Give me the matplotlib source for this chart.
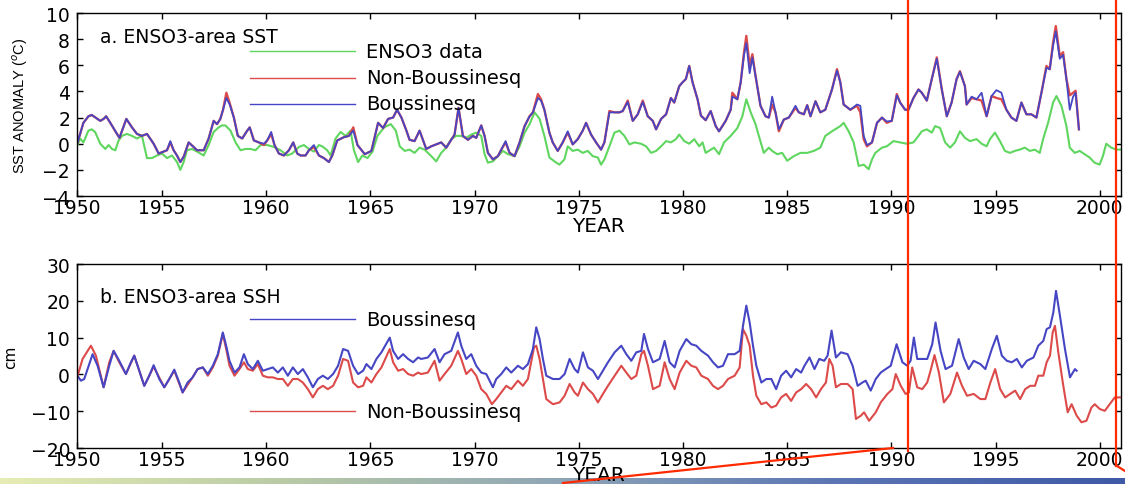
import numpy as np
import matplotlib
matplotlib.use('Agg')
import matplotlib.pyplot as plt
from matplotlib.lines import Line2D
from matplotlib.colors import LinearSegmentedColormap

# ---- panel a: ENSO3-area SST anomaly (deg C) ----
sst_model_years = [
    1950.95, 1951.23, 1951.47, 1951.63, 1952.04, 1952.20, 1952.32, 1952.52, 1952.84, 1952.96,
    1953.29, 1953.56, 1953.80, 1954.04, 1954.28, 1954.60, 1954.84, 1955.08, 1955.24, 1955.40,
    1955.56, 1955.72, 1955.88, 1956.04, 1956.28, 1956.52, 1956.68, 1957.00, 1957.24, 1957.48,
    1957.64, 1957.80, 1957.93, 1958.09, 1958.25, 1958.45, 1958.64, 1958.85, 1959.09, 1959.21,
    1959.41, 1959.65, 1959.89, 1960.05, 1960.24, 1960.40, 1960.61, 1960.85, 1961.09, 1961.30,
    1961.49, 1961.65, 1961.89, 1962.05, 1962.29, 1962.53, 1962.77, 1963.01, 1963.17, 1963.41,
    1963.73, 1963.97, 1964.18, 1964.38, 1964.73, 1965.05, 1965.37, 1965.61, 1965.85, 1966.09,
    1966.28, 1966.49, 1966.73, 1966.88, 1967.12, 1967.36, 1967.52, 1967.68, 1967.92, 1968.16,
    1968.40, 1968.64, 1968.88, 1969.04, 1969.23, 1969.44, 1969.68, 1969.92, 1970.08, 1970.32,
    1970.48, 1970.64, 1970.88, 1971.12, 1971.28, 1971.49, 1971.68, 1971.92, 1972.16, 1972.40,
    1972.64, 1972.80, 1973.04, 1973.19, 1973.35, 1973.59, 1973.75, 1973.99, 1974.23, 1974.47,
    1974.71, 1974.95, 1975.19, 1975.35, 1975.59, 1975.83, 1976.07, 1976.23, 1976.47, 1976.71,
    1976.95, 1977.11, 1977.35, 1977.59, 1977.83, 1978.07, 1978.31, 1978.55, 1978.71, 1978.95,
    1979.19, 1979.42, 1979.58, 1979.82, 1979.98, 1980.14, 1980.30, 1980.46, 1980.70, 1980.86,
    1981.09, 1981.33, 1981.57, 1981.73, 1982.05, 1982.29, 1982.37, 1982.61, 1982.77, 1982.93,
    1983.04, 1983.20, 1983.33, 1983.48, 1983.72, 1983.96, 1984.12, 1984.28, 1984.44, 1984.60,
    1984.84, 1985.08, 1985.40, 1985.56, 1985.80, 1985.96, 1986.12, 1986.36, 1986.59, 1986.83,
    1987.15, 1987.39, 1987.55, 1987.71, 1988.03, 1988.35, 1988.51, 1988.67, 1988.83, 1989.07,
    1989.31, 1989.55, 1989.78, 1990.02, 1990.26, 1990.42, 1990.66, 1990.82, 1991.06, 1991.30,
    1991.46, 1991.70, 1991.94, 1992.18, 1992.42, 1992.66, 1992.89, 1993.13, 1993.29, 1993.53,
    1993.61, 1993.85, 1994.09, 1994.33, 1994.57, 1994.81, 1995.04, 1995.28, 1995.52, 1995.76,
    1996.00, 1996.24, 1996.48, 1996.72, 1996.96, 1997.20, 1997.44, 1997.60, 1997.76, 1997.89,
    1998.08, 1998.24, 1998.40, 1998.56, 1998.72, 1998.84, 1999.00,
]
sst_nonbouss = [
    0.1, 1.6, 2.1, 2.2, 1.75, 1.9, 2.1, 1.6, 0.75, 0.45,
    1.9, 1.25, 0.75, 0.6, 0.75, 0.0, -0.75, -0.6, -0.5, 0.1,
    -0.5, -0.9, -1.4, -1.0, 0.1, -0.25, -0.5, -0.5, 0.4, 1.75,
    1.5, 1.9, 2.6, 3.9, 3.1, 2.0, 0.6, 0.4, 1.0, 1.25,
    0.25, 0.1, -0.1, 0.25, 0.75, -0.1, -0.75, -0.9, -0.5, 0.1,
    -0.75, -0.9, -0.9, -0.5, -0.25, -0.9, -1.1, -1.4, -0.9, 0.25,
    0.5, 0.6, 1.25, -0.1, -0.8, -0.55, 1.6, 1.2, 1.9, 2.0,
    2.6, 2.0, 1.0, 0.3, 0.2, 1.0, 0.3, -0.4, -0.2, -0.05,
    0.1, -0.3, 0.3, 0.7, 2.75, 0.6, 0.3, 0.6, 0.45, 1.4,
    0.6, -0.7, -1.2, -0.95, -0.45, 0.1, -0.7, -0.95, 0.1, 1.35,
    2.1, 2.4, 3.8, 3.4, 2.6, 0.85, 0.1, -0.55, 0.1, 0.85,
    -0.05, 0.35, 1.0, 1.6, 0.7, 0.1, -0.45, 0.1, 2.5, 2.4,
    2.4, 2.5, 3.3, 1.75, 2.25, 3.3, 2.1, 1.75, 1.1, 1.9,
    2.25, 3.5, 3.15, 4.4, 4.7, 4.95, 5.95, 4.7, 3.4, 2.15,
    1.8, 2.5, 1.35, 0.95, 1.75, 2.6, 3.9, 3.4, 4.7, 7.0,
    8.25, 5.95, 6.85, 5.2, 2.9, 2.1, 2.0, 3.0, 2.4, 0.95,
    1.85, 2.0, 2.75, 2.4, 2.25, 2.95, 2.1, 3.25, 2.4, 2.6,
    4.15, 5.7, 4.7, 3.0, 2.6, 2.9, 2.4, 0.35, -0.2, 0.1,
    1.6, 2.0, 1.6, 1.75, 3.8, 3.15, 2.6, 2.6, 3.5, 4.15,
    3.9, 3.3, 4.95, 6.6, 4.15, 2.1, 3.15, 4.95, 5.55, 4.4,
    3.0, 3.5, 3.4, 3.3, 2.1, 3.65, 3.5, 3.4, 2.6, 2.0,
    1.75, 3.15, 2.25, 2.25, 2.0, 3.9, 5.95, 5.7, 7.75, 9.0,
    6.7, 7.0, 4.95, 3.7, 3.9, 4.05, 1.1,
]
sst_bouss = [
    0.1, 1.6, 2.1, 2.2, 1.75, 1.9, 2.1, 1.6, 0.75, 0.45,
    1.9, 1.25, 0.75, 0.6, 0.75, 0.0, -0.75, -0.6, -0.5, 0.2,
    -0.5, -0.9, -1.4, -1.0, 0.1, -0.25, -0.5, -0.5, 0.4, 1.75,
    1.5, 1.9, 2.6, 3.5, 3.0, 2.0, 0.6, 0.4, 1.0, 1.25,
    0.25, 0.1, 0.0, 0.25, 0.9, -0.1, -0.75, -0.9, -0.5, 0.1,
    -0.75, -0.9, -0.9, -0.5, -0.1, -0.9, -1.1, -1.4, -0.9, 0.25,
    0.5, 0.6, 1.0, -0.1, -0.8, -0.55, 1.6, 1.2, 1.9, 2.0,
    2.6, 2.0, 1.0, 0.3, 0.2, 1.0, 0.3, -0.4, -0.2, -0.05,
    0.1, -0.3, 0.3, 0.7, 2.75, 0.6, 0.3, 0.6, 0.45, 1.4,
    0.6, -0.7, -1.2, -0.95, -0.45, 0.2, -0.7, -0.95, 0.1, 1.35,
    2.1, 2.4, 3.5, 3.3, 2.6, 0.85, 0.1, -0.55, 0.1, 0.95,
    -0.05, 0.35, 1.0, 1.6, 0.7, 0.1, -0.45, 0.1, 2.4, 2.4,
    2.4, 2.5, 3.2, 1.75, 2.25, 3.2, 2.1, 1.75, 1.1, 1.9,
    2.25, 3.5, 3.15, 4.4, 4.7, 4.95, 5.95, 4.7, 3.4, 2.15,
    1.8, 2.5, 1.35, 0.95, 1.75, 2.6, 3.6, 3.4, 4.7, 6.8,
    7.7, 5.4, 6.6, 5.2, 2.9, 2.1, 2.0, 3.6, 2.4, 1.1,
    1.85, 2.0, 2.9, 2.4, 2.25, 2.95, 2.1, 3.25, 2.4, 2.6,
    4.15, 5.6, 4.7, 3.0, 2.6, 3.0, 2.9, 0.6, -0.1, 0.1,
    1.6, 2.0, 1.7, 1.75, 3.7, 3.15, 2.6, 2.6, 3.5, 4.15,
    3.9, 3.3, 4.95, 6.5, 4.15, 2.1, 3.15, 4.95, 5.5, 4.4,
    3.0, 3.6, 3.4, 3.9, 2.1, 3.65, 4.1, 3.9, 2.6, 2.0,
    1.75, 3.15, 2.25, 2.25, 2.0, 3.9, 5.8, 5.7, 7.5, 8.6,
    6.5, 6.8, 4.95, 2.6, 3.6, 3.9, 1.1,
]
sst_obs_years = [
    1950.95, 1951.07, 1951.23, 1951.47, 1951.63, 1951.79, 1952.04, 1952.28, 1952.44, 1952.60,
    1952.76, 1952.92, 1953.08, 1953.32, 1953.56, 1953.80, 1954.04, 1954.28, 1954.52, 1954.76,
    1955.00, 1955.24, 1955.48, 1955.72, 1955.88, 1956.04, 1956.20, 1956.44, 1956.68, 1957.00,
    1957.24, 1957.48, 1957.72, 1957.88, 1958.04, 1958.29, 1958.53, 1958.77, 1959.01, 1959.25,
    1959.49, 1959.73, 1960.05, 1960.37, 1960.69, 1961.01, 1961.25, 1961.57, 1961.81, 1962.05,
    1962.29, 1962.53, 1962.69, 1962.93, 1963.09, 1963.33, 1963.57, 1963.81, 1964.05, 1964.21,
    1964.41, 1964.62, 1964.86, 1965.10, 1965.34, 1965.66, 1965.98, 1966.22, 1966.41, 1966.65,
    1966.88, 1967.12, 1967.36, 1967.60, 1967.92, 1968.16, 1968.40, 1968.64, 1968.88, 1969.12,
    1969.36, 1969.60, 1969.84, 1970.08, 1970.32, 1970.48, 1970.64, 1970.88, 1971.12, 1971.36,
    1971.60, 1971.92, 1972.16, 1972.40, 1972.64, 1972.88, 1973.12, 1973.35, 1973.59, 1973.83,
    1974.07, 1974.31, 1974.47, 1974.71, 1974.95, 1975.19, 1975.43, 1975.67, 1975.91, 1976.07,
    1976.23, 1976.47, 1976.71, 1976.95, 1977.19, 1977.43, 1977.67, 1977.99, 1978.23, 1978.47,
    1978.71, 1978.95, 1979.19, 1979.42, 1979.66, 1979.82, 1980.06, 1980.30, 1980.54, 1980.78,
    1980.94, 1981.09, 1981.49, 1981.73, 1981.97, 1982.29, 1982.61, 1982.85, 1983.04, 1983.25,
    1983.48, 1983.64, 1983.88, 1984.12, 1984.28, 1984.52, 1984.76, 1985.00, 1985.32, 1985.64,
    1985.96, 1986.28, 1986.59, 1986.83, 1987.15, 1987.55, 1987.71, 1987.95, 1988.19, 1988.43,
    1988.67, 1988.91, 1989.07, 1989.23, 1989.55, 1989.78, 1990.10, 1990.42, 1990.74, 1991.06,
    1991.30, 1991.46, 1991.70, 1991.94, 1992.10, 1992.34, 1992.58, 1992.82, 1993.05, 1993.29,
    1993.53, 1993.77, 1994.09, 1994.33, 1994.57, 1994.73, 1994.97, 1995.21, 1995.45, 1995.69,
    1995.92, 1996.16, 1996.40, 1996.64, 1996.88, 1997.12, 1997.28, 1997.52, 1997.76, 1997.92,
    1998.16, 1998.40, 1998.56, 1998.80, 1999.04, 1999.27, 1999.51, 1999.75, 1999.99, 2000.15,
    2000.31, 2000.55, 2000.79, 2000.98,
]
sst_obs = [
    -0.1, 0.4, 0.1, 1.0, 1.1, 0.9, 0.0, -0.4, -0.1, -0.4,
    -0.5, 0.25, 0.6, 0.75, 0.6, 0.4, 0.6, -1.1, -1.1, -0.9,
    -0.75, -1.1, -0.9, -1.4, -2.0, -1.4, -0.5, -0.4, -0.6, -0.9,
    -0.1, 0.9, 1.25, 1.4, 1.4, 1.0, 0.1, -0.5, -0.4, -0.4,
    -0.5, -0.1, -0.1, -0.25, -0.5, -0.9, -0.75, -0.25, -0.1, -0.4,
    -0.6, -0.1, -0.2, -0.5, -0.9, 0.4, 0.9, 0.6, 1.0, -0.5,
    -1.4, -0.9, -1.1, -0.6, 0.6, 1.25, 1.5, 1.0, -0.2, -0.55,
    -0.45, -0.7, -0.3, -0.45, -0.95, -1.35, -0.7, -0.3, 0.35, 0.6,
    0.6, 0.45, 0.7, 0.85, 0.6, -0.8, -1.45, -1.35, -0.95, -0.55,
    -0.8, -0.95, -0.2, 0.85, 1.5, 2.4, 1.9, 0.6, -1.05, -1.35,
    -1.6, -1.2, -0.2, -0.55, -0.45, -0.7, -0.55, -0.95, -1.05, -1.6,
    -1.2, -0.2, 0.85, 1.0, 0.6, -0.05, 0.1, 0.0, -0.2, -0.7,
    -0.55, -0.2, 0.2, 0.1, 0.35, 0.7, 0.2, 0.0, 0.35, -0.2,
    0.1, -0.7, -0.3, -0.8, 0.1, 0.6, 1.2, 2.1, 3.4, 2.4,
    1.5, 0.6, -0.7, -0.3, -0.55, -0.8, -0.7, -1.3, -0.95, -0.7,
    -0.7, -0.55, -0.3, 0.6, 0.95, 1.35, 1.6, 0.95, 0.1, -1.7,
    -1.6, -1.95, -1.2, -0.7, -0.3, -0.2, 0.2, 0.1, 0.0, 0.1,
    0.6, 0.95, 1.1, 0.85, 1.35, 1.2, 0.1, -0.3, 0.1, 0.95,
    0.45, 0.2, 0.35, 0.0, -0.2, 0.35, 0.85, 0.2, -0.55, -0.7,
    -0.55, -0.45, -0.3, -0.55, -0.45, -0.7, 0.35, 1.6, 3.15, 3.65,
    2.9, 1.35, -0.3, -0.7, -0.55, -0.8, -1.05, -1.45, -1.6, -0.95,
    0.0, -0.3, -0.45, -0.45,
]

# ---- panel b: ENSO3-area SSH (cm) ----
ssh_bouss_years = [
    1950.95, 1951.11, 1951.27, 1951.43, 1951.67, 1951.91, 1952.20, 1952.47, 1952.68, 1952.95,
    1953.27, 1953.51, 1953.67, 1953.91, 1954.15, 1954.39, 1954.60, 1954.87, 1955.11, 1955.35,
    1955.59, 1955.83, 1955.99, 1956.23, 1956.47, 1956.71, 1956.96, 1957.20, 1957.44, 1957.68,
    1957.92, 1958.08, 1958.24, 1958.48, 1958.72, 1958.93, 1959.12, 1959.36, 1959.60, 1959.84,
    1960.08, 1960.32, 1960.56, 1960.80, 1961.04, 1961.28, 1961.52, 1961.76, 1962.00, 1962.24,
    1962.48, 1962.72, 1962.96, 1963.21, 1963.45, 1963.69, 1963.93, 1964.17, 1964.41, 1964.65,
    1964.81, 1965.05, 1965.29, 1965.53, 1965.93, 1966.09, 1966.33, 1966.57, 1966.81, 1967.05,
    1967.29, 1967.44, 1967.76, 1968.08, 1968.32, 1968.56, 1968.88, 1969.20, 1969.36, 1969.60,
    1969.84, 1970.08, 1970.32, 1970.56, 1970.88, 1971.04, 1971.28, 1971.52, 1971.76, 1972.08,
    1972.32, 1972.56, 1972.80, 1972.96, 1973.12, 1973.28, 1973.44, 1973.76, 1974.08, 1974.32,
    1974.56, 1974.80, 1974.96, 1975.20, 1975.44, 1975.68, 1975.92, 1976.16, 1976.40, 1976.72,
    1977.04, 1977.28, 1977.52, 1977.76, 1978.00, 1978.13, 1978.32, 1978.56, 1978.88, 1979.12,
    1979.36, 1979.60, 1979.84, 1980.16, 1980.40, 1980.64, 1980.88, 1981.20, 1981.44, 1981.68,
    1981.92, 1982.16, 1982.48, 1982.72, 1982.88, 1983.04, 1983.20, 1983.36, 1983.52, 1983.76,
    1984.00, 1984.24, 1984.47, 1984.71, 1984.95, 1985.19, 1985.43, 1985.67, 1985.83, 1986.07,
    1986.31, 1986.54, 1986.78, 1986.94, 1987.13, 1987.34, 1987.58, 1987.90, 1988.14, 1988.38,
    1988.61, 1988.77, 1989.01, 1989.25, 1989.49, 1989.73, 1989.97, 1990.25, 1990.53, 1990.76,
    1990.92, 1991.08, 1991.24, 1991.48, 1991.72, 1991.96, 1992.12, 1992.36, 1992.60, 1992.91,
    1993.23, 1993.47, 1993.71, 1993.95, 1994.27, 1994.51, 1994.82, 1995.06, 1995.30, 1995.54,
    1995.78, 1996.02, 1996.26, 1996.50, 1996.82, 1997.05, 1997.29, 1997.45, 1997.61, 1997.77,
    1997.90, 1998.09, 1998.33, 1998.57, 1998.81, 1998.89,
]
ssh_bouss = [
    -0.4, -1.7, -1.25, 1.45, 5.5, 2.35, -3.5, 2.35, 6.4, 3.7,
    0.1, 3.3, 5.1, 1.0, -3.1, -0.35, 2.5, -1.25, -3.5, -1.25,
    1.3, -2.2, -4.9, -2.2, -0.8, 1.45, 1.9, 0.1, 2.35, 5.5,
    11.4, 7.8, 3.7, 0.5, 1.9, 5.5, 2.8, 1.45, 3.7, 1.0,
    1.45, 1.9, 0.5, 1.9, -0.35, 1.9, 0.1, 1.45, -0.8, -3.5,
    -1.25, -0.35, -1.25, 0.1, 2.35, 6.9, 6.4, 2.35, 0.1, 1.0,
    2.8, 1.45, 4.2, 6.0, 10.0, 6.4, 4.2, 5.5, 4.2, 3.3,
    4.6, 4.2, 4.6, 6.9, 3.3, 5.5, 6.4, 11.4, 7.8, 4.2,
    5.5, 2.35, 0.5, 0.1, -3.5, -1.25, 0.1, 1.9, 0.5, 2.35,
    1.45, 2.8, 6.9, 12.8, 9.6, 4.2, -0.35, -1.25, -1.25, 0.1,
    4.2, 1.45, 0.5, 6.0, 1.9, 1.0, -1.25, 1.0, 3.3, 6.0,
    7.8, 5.5, 3.7, 6.0, 6.4, 11.0, 6.9, 3.3, 4.2, 9.1,
    3.3, 1.9, 6.4, 9.6, 8.2, 7.8, 6.4, 5.1, 3.3, 1.9,
    2.35, 5.5, 5.5, 6.4, 13.2, 18.7, 14.1, 7.8, 2.35, -2.2,
    -1.25, -1.25, -4.0, -0.35, 1.0, -0.8, 1.45, 0.5, 2.35, 4.6,
    1.45, 4.2, 3.7, 5.1, 11.9, 4.6, 6.0, 5.5, 2.35, -3.1,
    -2.2, -1.7, -4.4, -1.25, 0.5, 1.45, 2.35, 8.2, 3.3, 2.35,
    3.7, 10.0, 4.2, 4.2, 4.2, 8.2, 14.1, 6.4, 1.45, 2.35,
    9.6, 4.6, 1.45, 3.7, 2.8, 1.45, 6.9, 10.5, 5.1, 3.7,
    3.3, 4.2, 1.9, 3.7, 4.6, 7.8, 9.1, 12.3, 12.8, 16.8,
    22.7, 15.9, 6.9, -0.8, 1.45, 1.0,
]
ssh_nonbouss_years = [
    1950.95, 1951.19, 1951.59, 1951.83, 1952.20, 1952.47, 1952.68, 1952.95, 1953.27, 1953.67,
    1954.15, 1954.60, 1955.11, 1955.59, 1955.99, 1956.47, 1956.71, 1956.96, 1957.20, 1957.44,
    1957.68, 1957.92, 1958.08, 1958.24, 1958.48, 1958.72, 1958.93, 1959.12, 1959.36, 1959.60,
    1959.84, 1960.08, 1960.32, 1960.56, 1960.80, 1961.04, 1961.28, 1961.52, 1961.76, 1962.00,
    1962.24, 1962.48, 1962.72, 1962.96, 1963.21, 1963.45, 1963.69, 1963.93, 1964.17, 1964.41,
    1964.65, 1964.81, 1965.05, 1965.29, 1965.53, 1965.93, 1966.09, 1966.33, 1966.57, 1966.81,
    1967.05, 1967.29, 1967.44, 1967.76, 1968.08, 1968.32, 1968.56, 1968.88, 1969.20, 1969.36,
    1969.60, 1969.84, 1970.08, 1970.32, 1970.56, 1970.83, 1971.04, 1971.28, 1971.52, 1971.76,
    1972.08, 1972.32, 1972.56, 1972.85, 1972.96, 1973.12, 1973.28, 1973.44, 1973.76, 1974.08,
    1974.32, 1974.56, 1974.80, 1974.96, 1975.20, 1975.44, 1975.68, 1975.92, 1976.16, 1976.40,
    1976.72, 1977.04, 1977.28, 1977.52, 1977.76, 1978.00, 1978.13, 1978.32, 1978.56, 1978.88,
    1979.12, 1979.36, 1979.60, 1979.84, 1980.16, 1980.40, 1980.64, 1980.88, 1981.20, 1981.44,
    1981.68, 1981.92, 1982.16, 1982.48, 1982.72, 1982.88, 1983.04, 1983.20, 1983.36, 1983.52,
    1983.76, 1984.00, 1984.24, 1984.47, 1984.71, 1984.95, 1985.19, 1985.43, 1985.67, 1985.91,
    1986.15, 1986.39, 1986.62, 1986.86, 1987.02, 1987.18, 1987.34, 1987.58, 1987.90, 1988.14,
    1988.30, 1988.54, 1988.69, 1988.93, 1989.25, 1989.49, 1989.81, 1990.05, 1990.21, 1990.45,
    1990.68, 1990.84, 1991.00, 1991.24, 1991.48, 1991.72, 1991.88, 1992.07, 1992.28, 1992.52,
    1992.83, 1993.15, 1993.39, 1993.63, 1993.95, 1994.27, 1994.51, 1994.75, 1994.98, 1995.22,
    1995.46, 1995.70, 1995.94, 1996.18, 1996.42, 1996.66, 1996.89, 1997.05, 1997.29, 1997.45,
    1997.61, 1997.74, 1997.85, 1998.01, 1998.25, 1998.46, 1998.65, 1998.89, 1999.12, 1999.36,
    1999.60, 1999.76, 2000.00, 2000.24, 2000.48, 2000.72, 2000.96,
]
ssh_nonbouss = [
    -0.4, 4.2, 7.8, 5.1, -3.5, 3.3, 6.4, 3.3, 0.1, 5.1,
    -3.1, 2.1, -3.5, 1.0, -4.9, -0.8, 1.45, 1.9, -0.35, 1.9,
    5.1, 11.0, 6.9, 2.35, -0.35, 1.45, 3.3, 1.45, 1.0, 2.8,
    -0.35, -0.8, -0.8, -1.25, -1.25, -3.1, -1.25, -1.25, -2.2, -4.0,
    -6.25, -4.0, -3.1, -4.0, -3.1, -0.35, 4.2, 3.7, -2.2, -3.5,
    -3.1, -0.8, -2.2, 0.1, 1.9, 6.9, 3.3, 1.0, 1.45, 0.1,
    -0.35, 0.5, 0.1, 0.5, 3.7, -1.7, 0.1, 2.35, 6.4, 4.2,
    0.1, 1.45, -0.35, -4.0, -5.3, -8.1, -6.7, -4.9, -3.1, -4.0,
    -1.7, -3.1, -1.25, 7.3, 7.8, 4.2, -1.25, -6.7, -8.1, -7.6,
    -5.8, -2.6, -4.9, -5.8, -2.2, -4.0, -5.3, -7.6, -5.3, -3.1,
    -0.35, 2.35, 0.5, -1.25, -0.35, 5.5, 6.4, 2.35, -4.0, -3.1,
    3.3, -1.25, -4.0, 0.5, 3.7, 2.35, 1.9, -0.35, -1.25, -3.1,
    -4.0, -3.1, -1.25, -0.35, 1.9, 12.3, 10.5, 7.8, -0.35, -5.8,
    -8.1, -7.6, -9.0, -8.5, -6.25, -5.3, -7.2, -4.9, -4.0, -2.6,
    -4.0, -6.25, -4.0, -2.2, 4.2, 2.35, -3.5, -2.6, -2.6, -4.0,
    -12.1, -11.2, -10.3, -12.6, -10.3, -7.6, -5.3, -4.0, 0.1, -3.1,
    -5.3, -4.9, 1.9, -3.5, -4.0, -2.2, 1.0, 5.25, 0.5, -7.6,
    -5.3, 0.5, -3.1, -5.8, -5.3, -6.7, -6.7, -2.2, 1.45, -4.0,
    -6.25, -5.3, -4.4, -6.7, -4.0, -3.1, -3.1, -0.35, -0.35, 3.3,
    5.1, 11.4, 13.2, 6.0, -3.1, -10.3, -8.1, -11.2, -13.0, -12.6,
    -9.0, -8.1, -9.4, -9.9, -8.1, -6.25, -6.25,
]

year_ticks = list(range(1950, 2001, 5))
x_start, x_end = 1950.92, 2001.0

GREEN = '#5fd65f'
RED = '#dc4a4a'
BLUE = '#4646c4'

plt.rcParams['font.family'] = ['DejaVu Sans']

fig = plt.figure(figsize=(11.25, 4.85), dpi=100)
ax1 = fig.add_axes([0.0684, 0.5938, 0.9277, 0.3773])
ax2 = fig.add_axes([0.0684, 0.0742, 0.9277, 0.3794])


def style_axis(ax, ylim, yticks):
    ax.set_xlim(x_start, x_end)
    ax.set_ylim(*ylim)
    ax.set_yticks(yticks)
    ax.set_xticks([x_start] + year_ticks[1:])
    ax.set_xticklabels([str(y) for y in year_ticks])
    ax.tick_params(direction='in', length=4, width=1, top=True, right=True,
                   labelsize=13.5, pad=1.5)
    ax.tick_params(axis='y', pad=5)
    for s in ax.spines.values():
        s.set_linewidth(1.0)


# panel a
ax1.plot(sst_obs_years, sst_obs, color=GREEN, lw=1.5)
ax1.plot(sst_model_years, sst_nonbouss, color=RED, lw=1.7)
ax1.plot(sst_model_years, sst_bouss, color=BLUE, lw=1.3)
style_axis(ax1, (-4, 10), range(-4, 11, 2))
ax1.text(0.022, 0.869, 'a. ENSO3-area SST', transform=ax1.transAxes,
         fontsize=13.5, va='center')
for yy, col, lab in [(0.792, GREEN, 'ENSO3 data'), (0.645, RED, 'Non-Boussinesq'),
                     (0.503, BLUE, 'Boussinesq')]:
    ax1.plot([0.166, 0.266], [yy, yy], color=col, lw=1.0, transform=ax1.transAxes)
    ax1.text(0.277, yy, lab, transform=ax1.transAxes, fontsize=14, va='center')
ax1.set_xlabel('YEAR', fontsize=14.5)
ax1.xaxis.set_label_coords(0.5, -0.11)
ax1.set_ylabel('SST ANOMALY ($^o$C)', fontsize=10.5,
               family=['Liberation Sans Narrow', 'Liberation Sans', 'DejaVu Sans'])
ax1.yaxis.set_label_coords(-0.045, 0.5)

# panel b
ax2.plot(ssh_nonbouss_years, ssh_nonbouss, color=RED, lw=1.5)
ax2.plot(ssh_bouss_years, ssh_bouss, color=BLUE, lw=1.5)
style_axis(ax2, (-20, 30), range(-20, 31, 10))
ax2.text(0.022, 0.821, 'b. ENSO3-area SSH', transform=ax2.transAxes,
         fontsize=13.5, va='center')
for yy, col, lab in [(0.701, BLUE, 'Boussinesq'), (0.201, RED, 'Non-Boussinesq')]:
    ax2.plot([0.166, 0.266], [yy, yy], color=col, lw=1.0, transform=ax2.transAxes)
    ax2.text(0.277, yy, lab, transform=ax2.transAxes, fontsize=14, va='center')
ax2.set_xlabel('YEAR', fontsize=14.5)
ax2.xaxis.set_label_coords(0.5, -0.092)
ax2.set_ylabel('cm', fontsize=11)
ax2.yaxis.set_label_coords(-0.056, 0.5)

# slide decorations: gradient strip (behind the text) and red callout lines
band = fig.add_axes([0.0, 0.0, 1.0, 0.013])
band.set_zorder(-1)
band.axis('off')
cmap = LinearSegmentedColormap.from_list(
    'band', ['#e6edb4', '#b9cba6', '#8ea5b6', '#5a74b4', '#3f5aa6'])
band.imshow(np.linspace(0, 1, 256)[None, :], aspect='auto', cmap=cmap,
            extent=[0, 1, 0, 1])
band.set_xlim(0, 1)
band.set_ylim(0, 1)

W, H = 1125.0, 485.0
red_segments = [
    ((908, 0), (908, 452)),
    ((1116, 0), (1116, 467)),
    ((563, 484), (893, 449)),
    ((1117, 467), (1125, 472)),
]
for (xa, ya), (xb, yb) in red_segments:
    fig.add_artist(Line2D([xa / W, xb / W], [1 - ya / H, 1 - yb / H],
                          transform=fig.transFigure, color='#ff2a00', lw=1.6))

fig.savefig('out.png', dpi=100)
